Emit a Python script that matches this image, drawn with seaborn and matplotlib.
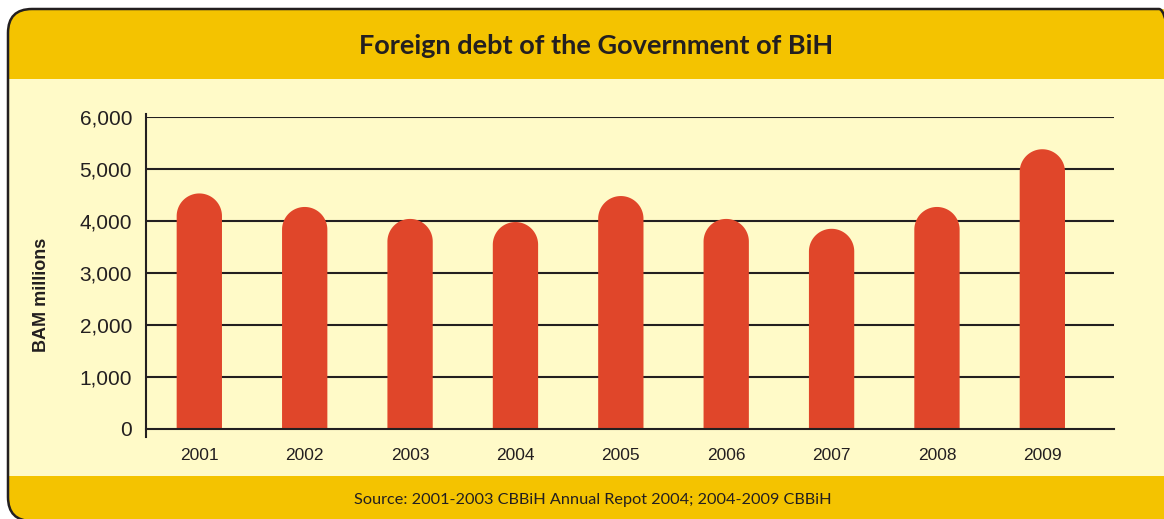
import matplotlib
matplotlib.use("Agg")
import matplotlib.pyplot as plt
import matplotlib.transforms as mtransforms
import seaborn as sns
import pandas as pd
import numpy as np
from matplotlib.patches import FancyBboxPatch, Rectangle, Polygon

years = ["2001", "2002", "2003", "2004", "2005", "2006", "2007", "2008", "2009"]
debt = [4530, 4270, 4040, 3980, 4480, 4040, 3850, 4270, 5380]
yticks = [0, 1000, 2000, 3000, 4000, 5000, 6000]
ytick_labels = ["0", "1,000", "2,000", "3,000", "4,000", "5,000", "6,000"]
title = "Foreign debt of the Government of BiH"
source = "Source: 2001-2003 CBBiH Annual Repot 2004; 2004-2009 CBBiH"
ylabel = "BAM millions"

HEADER = "#F4C300"
BG = "#FFFAC8"
BAR = "#E0462A"
INK = "#231F20"

sns.set_theme(style="white")
plt.rcParams["font.family"] = ["Liberation Sans", "DejaVu Sans"]

W, H = 1164, 519
fig = plt.figure(figsize=(W / 100, H / 100), dpi=100)
fig.patch.set_facecolor("white")
ident = mtransforms.IdentityTransform()

def fx(px):
    return px / W

def fy(py):
    return 1 - py / H

# frame (pixel coordinates, origin bottom-left)
def frame_patch(fc, ec, lw, z):
    return FancyBboxPatch((8, H - 521), 1175, 521 - 9,
                          boxstyle="round,pad=0,rounding_size=24",
                          transform=ident, facecolor=fc, edgecolor=ec,
                          linewidth=lw, zorder=z)

frame = frame_patch(BG, "none", 0, 0)
fig.patches.append(frame)
for (y0, y1) in [(9, 79), (476, 560)]:
    r = Rectangle((0, H - y1), W + 50, y1 - y0, transform=ident,
                  facecolor=HEADER, edgecolor="none", zorder=0.5)
    r.set_clip_path(frame)
    fig.patches.append(r)
fig.patches.append(frame_patch("none", INK, 1.8, 1))

fig.text(fx(596), fy(45.5), title, ha="center", va="center", fontsize=19.5,
         fontweight="bold", family=["Lato", "DejaVu Sans"], color=INK, zorder=3)
fig.text(fx(593), fy(500), source, ha="center", va="center", fontsize=11.7,
         family=["Lato", "DejaVu Sans"], color=INK, zorder=3)

ax = fig.add_axes([fx(146), fy(429), fx(1114) - fx(146), fy(117) - fy(429)])
ax.set_facecolor("none")
ax.set_zorder(5)

df = pd.DataFrame({"year": years, "debt": debt})
sns.barplot(data=df, x="year", y="debt", color=BAR, saturation=1, width=0.43,
            ax=ax)
ax.set_xlim(-0.506, 8.68)
ax.set_ylim(0, 6000)

# replace each bar by a rounded-top shape of the same footprint
fig.canvas.draw()
inv = ax.transData.inverted()
t = np.linspace(np.pi, 0, 60)
for p in list(ax.patches):
    x0, w, h = p.get_x(), p.get_width(), p.get_height()
    p0 = ax.transData.transform((x0, 0))
    p1 = ax.transData.transform((x0 + w, 0))
    rpx = (p1[0] - p0[0]) / 2
    ry = inv.transform((0, ax.transData.transform((0, 0))[1] + rpx))[1]
    cx, cy = x0 + w / 2, h - ry
    arc = np.column_stack([cx + (w / 2) * np.cos(t), cy + ry * np.sin(t)])
    verts = np.vstack([[x0, 0], arc, [x0 + w, 0]])
    poly = Polygon(verts, closed=True, facecolor=BAR, edgecolor="none",
                   linewidth=0, zorder=3)
    p.remove()
    ax.add_patch(poly)

ax.set_yticks(yticks)
ax.set_yticklabels(ytick_labels)
for y in yticks[1:]:
    ax.axhline(y, color=INK, linewidth=1.5, zorder=2)
ax.tick_params(axis="y", length=0, pad=10, labelsize=15, labelcolor=INK)
ax.tick_params(axis="x", length=0, pad=14, labelsize=12.5, labelcolor=INK)
ax.set_xlabel("")
ax.set_ylabel(ylabel, fontsize=13, fontweight="bold", color=INK)
ax.yaxis.set_label_coords((50 - 146) / 968, (429 - 294.5) / 312)
for s in ["top", "right"]:
    ax.spines[s].set_visible(False)
ax.spines["left"].set_color(INK)
ax.spines["left"].set_linewidth(1.5)
ax.spines["left"].set_bounds(-150, 6050)
ax.spines["bottom"].set_color(INK)
ax.spines["bottom"].set_linewidth(1.5)
ax.spines["bottom"].set_zorder(4)

fig.savefig("out.png", dpi=100, facecolor=fig.get_facecolor())
